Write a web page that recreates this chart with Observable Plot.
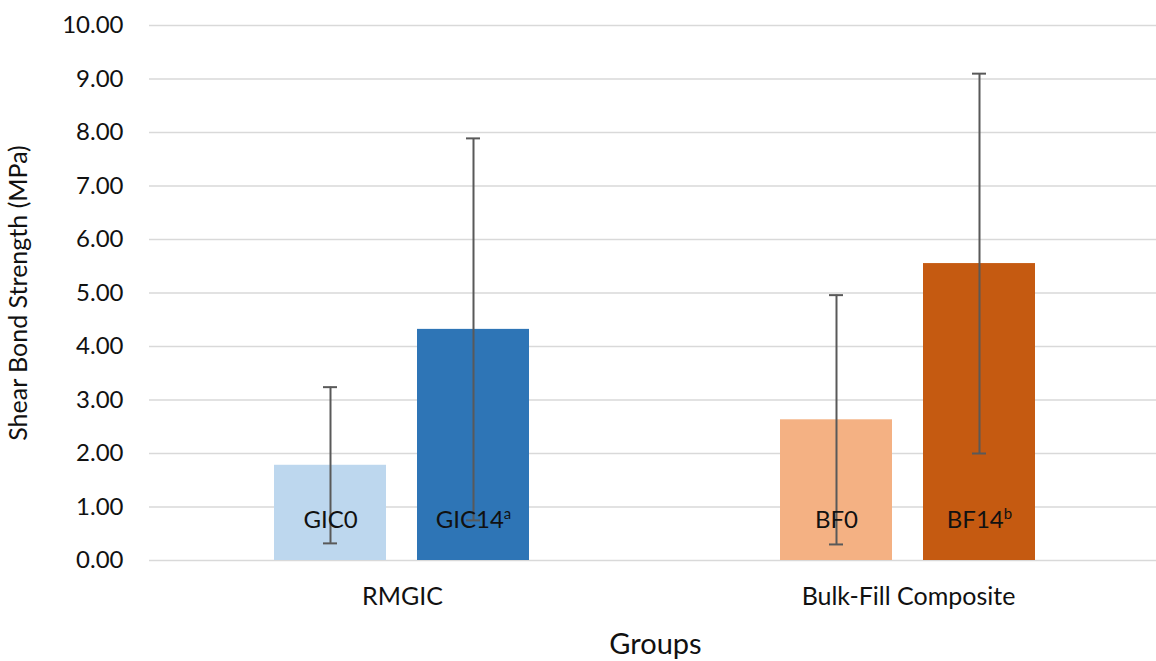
<!DOCTYPE html>
<html><head><meta charset="utf-8">
<script src="https://cdn.jsdelivr.net/npm/d3@7"></script>
<script src="https://cdn.jsdelivr.net/npm/@observablehq/plot@0.6"></script>
<style>body{margin:0;background:#fff} #chart{width:1156px;height:661px}</style>
</head><body><div id="chart"></div>
<script>
const groupOrder = ["RMGIC", "Bulk-Fill Composite"];
const groups = ["RMGIC", "RMGIC", "Bulk-Fill Composite", "Bulk-Fill Composite"];
const periods = ["0", "14", "0", "14"];
const labels = ["GIC0", "GIC14^a", "BF0", "BF14^b"];
const means = [1.78, 4.32, 2.63, 5.55];
const sds = [1.46, 3.57, 2.33, 3.55];
const barColors = ["#BDD7EE", "#2E75B6", "#F4B183", "#C55A11"];
const yTicks = [0, 1, 2, 3, 4, 5, 6, 7, 8, 9, 10];

const data = labels.map((l, i) => ({
  group: groups[i], period: periods[i], label: l, mean: means[i],
  lo: means[i] - sds[i], hi: means[i] + sds[i]
}));

const font = "Lato, 'Open Sans', sans-serif";
const errColor = "#595959";
const chart = Plot.plot({
  width: 1156, height: 661,
  marginLeft: 148, marginRight: -5, marginTop: 25, marginBottom: 101,
  style: {fontFamily: font, fontSize: "24px", color: "#111", background: "#fff", overflow: "hidden"},
  fx: {domain: groupOrder, padding: 0},
  x: {domain: ["0", "14"], paddingInner: 0.2153, paddingOuter: 0.866, axis: null},
  y: {domain: [0, 10]},
  color: {domain: labels, range: barColors},
  marks: [
    Plot.gridY(yTicks, {stroke: "#d9d9d9", strokeOpacity: 1, strokeWidth: 1.5}),
    Plot.axisY(yTicks, {tickSize: 0, tickPadding: 26, tickFormat: d3.format(".2f"), fontSize: 24,
      label: "Shear Bond Strength (MPa)", labelAnchor: "center", labelArrow: "none", labelOffset: 140}),
    Plot.axisFx({anchor: "bottom", tickSize: 0, tickPadding: 27, fontSize: 25,
      label: "Groups", labelAnchor: "center", labelArrow: "none", labelOffset: 93}),
    Plot.barY(data, {fx: "group", x: "period", y: "mean", fill: "label"}),
    Plot.ruleX(data, {fx: "group", x: "period", y1: "lo", y2: "hi", stroke: errColor, strokeWidth: 2}),
    Plot.tickY(data, {fx: "group", x: "period", y: "lo", stroke: errColor, strokeWidth: 2, insetLeft: 49, insetRight: 49}),
    Plot.tickY(data, {fx: "group", x: "period", y: "hi", stroke: errColor, strokeWidth: 2, insetLeft: 49, insetRight: 49}),
    Plot.text(data, {fx: "group", x: "period", text: "label", frameAnchor: "bottom", dy: -33, fontSize: 24, fill: "#111"})
  ]
});
document.getElementById("chart").appendChild(chart);

// axis title sizes
const yl = chart.querySelector('g[aria-label="y-axis label"]');
if (yl) yl.setAttribute("font-size", "25");
const xl = chart.querySelector('g[aria-label="fx-axis label"]');
if (xl) xl.setAttribute("font-size", "29");

// render "^x" as superscript
chart.querySelectorAll("text").forEach(t => {
  const s = t.textContent;
  if (s.includes("^")) {
    const [base, sup] = s.split("^");
    t.textContent = base;
    const ts = document.createElementNS("http://www.w3.org/2000/svg", "tspan");
    ts.setAttribute("dy", "-9");
    ts.setAttribute("font-size", "15");
    ts.textContent = sup;
    t.appendChild(ts);
  }
});
</script>
</body></html>
